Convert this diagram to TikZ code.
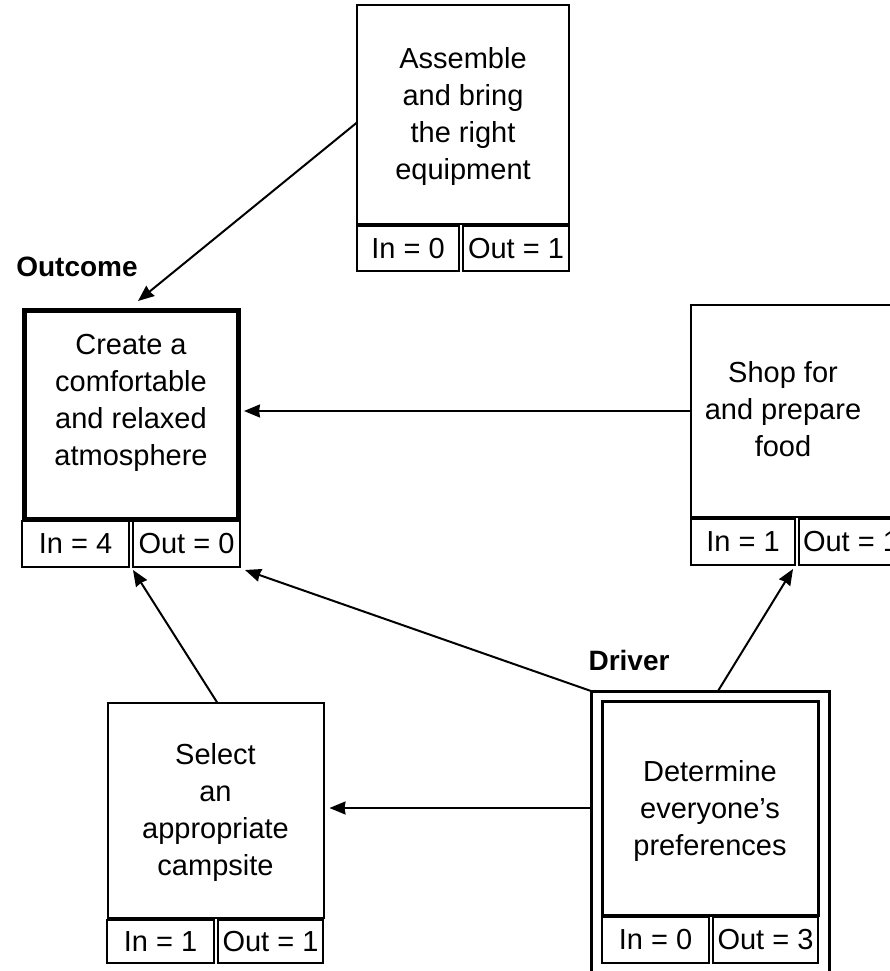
\documentclass[tikz,border=0pt]{standalone}
\usepackage{fontspec}
\setmainfont{Liberation Sans}
\usetikzlibrary{arrows.meta,calc}
\newcommand{\bodyfont}{\fontsize{29}{37}\selectfont}
\begin{document}
\begin{tikzpicture}[x=1pt,y=-1pt,
  card/.style={draw, line width=2pt, inner sep=0pt, outer sep=0pt, align=center, font=\bodyfont},
  words/.style={inner sep=0pt, align=center, font=\bodyfont},
  cell/.style={draw, line width=2pt, inner sep=0pt, outer sep=0pt, font=\bodyfont},
  tag/.style={inner sep=0pt, font=\bfseries\fontsize{28}{34}\selectfont},
  link/.style={line width=2pt, -{Stealth[length=16pt,width=13pt,inset=1pt]}}]
\useasboundingbox (0,0) rectangle (890,971);
\clip (0,0) rectangle (890,971);

% Assemble and bring the right equipment
\node[card, minimum width=212pt, minimum height=219pt] (A) at (463,114.5) {};
\node[words] (At) at (463,117) {Assemble\\and bring\\the right\\equipment};
\node[cell, minimum width=102pt, minimum height=45pt] (Ain) at (408,248.5) {In = 0};
\node[cell, minimum width=106pt, minimum height=45pt] (Aout) at (516,248.5) {Out = 1};

% Outcome: create a comfortable and relaxed atmosphere
\node[tag] (Olabel) at (77,267) {Outcome};
\node[card, line width=5pt, minimum width=214pt, minimum height=209pt] (O) at (131,414.5) {};
\node[words] (Ot) at (131,403) {Create a\\comfortable\\and relaxed\\atmosphere};
\node[cell, minimum width=107pt, minimum height=46pt] (Oin) at (75.5,544) {In = 4};
\node[cell, minimum width=107pt, minimum height=46pt] (Oout) at (186.5,544) {Out = 0};

% Shop for and prepare food
\node[card, minimum width=210pt, minimum height=212pt] (S) at (796,411) {};
\node[words] (St) at (783,409) {Shop for\\and prepare\\food};
\node[cell, minimum width=104pt, minimum height=46pt] (Sin) at (743,542) {In = 1};
\node[cell, minimum width=104pt, minimum height=46pt] (Sout) at (851,542) {Out = 1};

% Select an appropriate campsite
\node[card, minimum width=216pt, minimum height=215pt] (L) at (215.5,810.5) {};
\node[words] (Lt) at (215.5,812) {Select\\an\\appropriate\\campsite};
\node[cell, minimum width=107pt, minimum height=43pt] (Lin) at (160.5,941.5) {In = 1};
\node[cell, minimum width=105pt, minimum height=43pt] (Lout) at (270.5,941.5) {Out = 1};

% Driver: determine everyone's preferences
\node[tag] (Dlabel) at (629,660) {Driver};
\node[draw, line width=3pt, inner sep=0pt, outer sep=0pt, minimum width=238pt, minimum height=304pt] (Dframe) at (710,843) {};
\node[card, line width=3pt, minimum width=216pt, minimum height=214pt] (D) at (710,808) {};
\node[words] (Dt) at (710,811) {Determine\\everyone’s\\preferences};
\node[cell, minimum width=107pt, minimum height=46pt] (Din) at (655.5,940) {In = 0};
\node[cell, minimum width=105pt, minimum height=46pt] (Dout) at (765.5,940) {Out = 3};

% Connections
\draw[link] ([shift={(0,8)}]A.west) -- ([shift={(7,-9)}]O.north);
\draw[link, shorten >=6pt] (S.west) -- (S.west -| O.east);
\draw[link] ([xshift=2pt]L.north) -- ([shift={(0,3)}]Oout.south west);
\draw[link] (Dframe.north west) -- ([shift={(5,3)}]Oout.south east);
\draw[link, shorten >=6pt] (D.west -| Dframe.west) -- (D.west -| L.east);
\draw[link] ([xshift=8pt]Dframe.north) -- ([shift={(-2,4)}]Sin.south east);
\end{tikzpicture}
\end{document}
